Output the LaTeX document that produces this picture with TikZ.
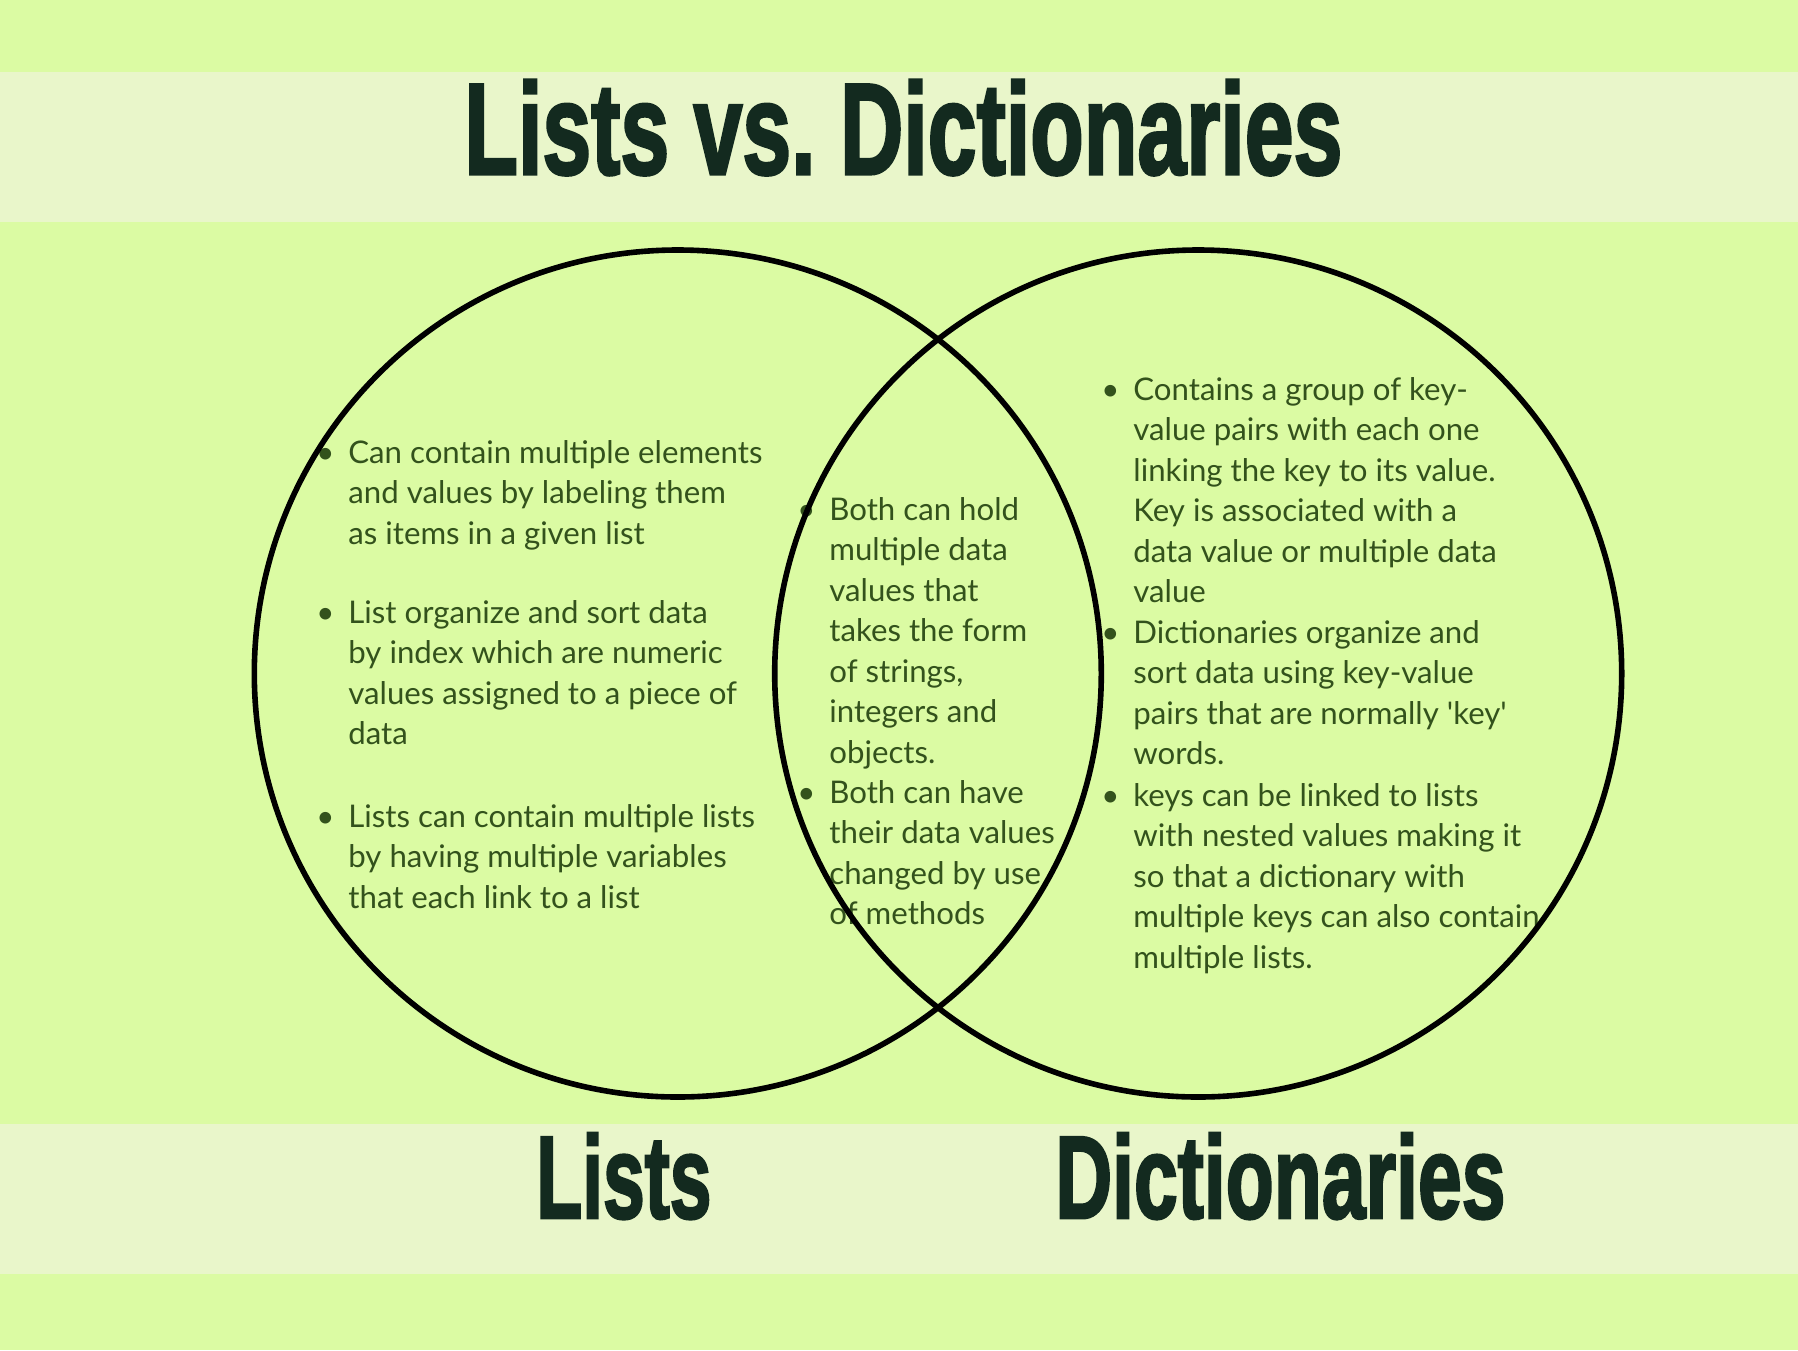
\documentclass[tikz,border=0pt]{standalone}
\usepackage{fontspec}
\setmainfont{Lato}
\newfontfamily\titlefont{Liberation Sans}[BoldFeatures={FakeBold=2.5}]
\definecolor{bgc}{HTML}{DBFBA3}
\definecolor{bandc}{HTML}{E9F6CA}
\definecolor{titlec}{HTML}{132A1F}
\definecolor{textc}{HTML}{33521C}
\newcommand{\bul}{\llap{\textbullet\hspace{7pt}}}
\tikzset{
  band/.style={fill=bandc},
  ring/.style={circle, draw=black, line width=2.8pt, minimum size=423.5pt, inner sep=0pt},
  heading/.style={anchor=base west, inner sep=0pt, text=titlec, font=\titlefont\bfseries},
  body/.style={anchor=north west, inner sep=0pt, align=left, text=textc,
    font=\fontsize{15.6pt}{20.25pt}\selectfont}
}
\begin{document}
\begin{tikzpicture}[x=0.5pt, y=-0.5pt]
\fill[bgc] (0,0) rectangle (1798,1350);
\useasboundingbox (0,0) rectangle (1798,1350);
\fill[band] (0,72) rectangle (1798,222);
\fill[band] (0,1124) rectangle (1798,1274);

\node[heading] (title) at (464,174) {\resizebox{439pt}{47pt}{Lists vs.\ Dictionaries}};
\node[heading] (lbl1) at (536,1218) {\resizebox{87.5pt}{42.5pt}{Lists}};
\node[heading] (lbl2) at (1055,1218) {\resizebox{225pt}{42.5pt}{Dictionaries}};

% left
\node[body] (l1) at (348,434.6) {\strut\bul Can contain multiple elements\\and values by labeling them\\as items in a given list};
\node[body] (l2) at (348,594.6) {\strut\bul List organize and sort data\\by index which are numeric\\values assigned to a piece of\\data};
\node[body] (l3) at (348,798.6) {\strut\bul Lists can contain multiple lists\\by having multiple variables\\that each link to a list};
% middle
\node[body] (m1) at (829,491.6) {\strut\bul Both can hold\\multiple data\\values that\\takes the form\\of strings,\\integers and\\objects.};
\node[body] (m2) at (829,774.6) {\strut\bul Both can have\\their data values\\changed by use\\of methods};
% right
\node[body] (r1) at (1133,371.6) {\strut\bul Contains a group of key-\\value pairs with each one\\linking the key to its value.\\Key is associated with a\\data value or multiple data\\value};
\node[body] (r2) at (1133,614.6) {\strut\bul Dictionaries organize and\\sort data using key-value\\pairs that are normally \textquotesingle key\textquotesingle\\words.};
\node[body] (r3) at (1133,777.6) {\strut\bul keys can be linked to lists\\with nested values making it\\so that a dictionary with\\multiple keys can also contain\\multiple lists.};

\node[ring] (lists) at (677.8,673.5) {};
\node[ring] (dicts) at (1198.2,673.5) {};
\end{tikzpicture}
\end{document}
